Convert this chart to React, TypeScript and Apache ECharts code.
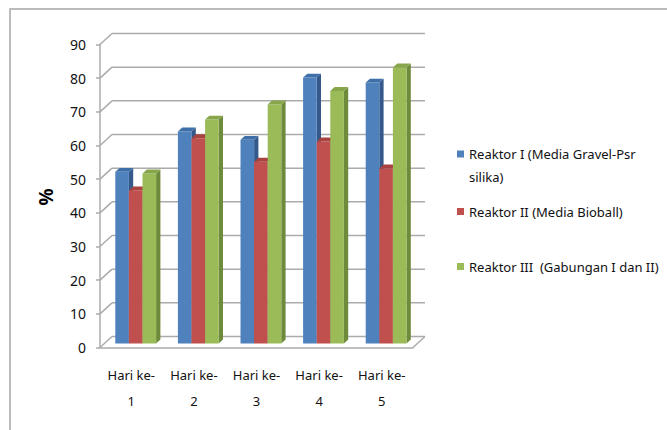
import { useEffect, useRef } from "react";
import * as echarts from "echarts";

// Days on the category axis
const categories = ["Hari ke-\n1", "Hari ke-\n2", "Hari ke-\n3", "Hari ke-\n4", "Hari ke-\n5"];

// Removal efficiency (%) per reactor
const reaktor1 = [51, 63, 60.5, 79, 77.5];
const reaktor2 = [45.5, 61, 54, 60, 52];
const reaktor3 = [50.5, 66.5, 71, 75, 82];

const seriesNames = [
  "Reaktor I (Media Gravel-Psr\nsilika)",
  "Reaktor II (Media Bioball)",
  "Reaktor III  (Gabungan I dan II)",
];

const yTicks = [0, 10, 20, 30, 40, 50, 60, 70, 80, 90];

// Pseudo-3D geometry (pixels)
const WALL_DX = 12;
const WALL_DY = -11;
const BAR_OX = 4.4;
const BAR_OY = -4;
const SIDE_DX = 4.3;
const SIDE_DY = -3.9;
const BAR_W = 13.6;

const FONT = "'Noto Sans', 'Liberation Sans', sans-serif";
const GRID_COLOR = "#ABABAB";

const palette = [
  { front: "#4F81BD", side: "#34598A", top: "#3F6FA8" },
  { front: "#C0504D", side: "#8C3836", top: "#A9433F" },
  { front: "#9BBB59", side: "#6E8A3B", top: "#87A64A" },
];

function barRenderer(k: number) {
  const c = palette[k];
  return (params: any, api: any) => {
    const idx = api.value(0);
    const v = api.value(1);
    const base = api.coord([idx, 0]);
    const top = api.coord([idx, v]);
    const x0 = base[0] - 1.5 * BAR_W + k * BAR_W + BAR_OX;
    const x1 = x0 + BAR_W;
    const yb = base[1] + BAR_OY;
    const yt = top[1] + BAR_OY;
    return {
      type: "group",
      children: [
        {
          type: "polygon",
          shape: {
            points: [
              [x1, yt],
              [x1 + SIDE_DX, yt + SIDE_DY],
              [x1 + SIDE_DX, yb + SIDE_DY],
              [x1, yb],
            ],
          },
          style: { fill: c.side },
        },
        {
          type: "rect",
          shape: { x: x0, y: yt, width: BAR_W, height: yb - yt },
          style: { fill: c.front },
        },
        {
          type: "polygon",
          shape: {
            points: [
              [x0, yt],
              [x0 + SIDE_DX, yt + SIDE_DY],
              [x1 + SIDE_DX, yt + SIDE_DY],
              [x1, yt],
            ],
          },
          style: { fill: c.top },
        },
      ],
    };
  };
}

// Back wall gridlines with the diagonal depth edges
function wallRenderer(params: any, api: any) {
  const cs = params.coordSys;
  const left = cs.x;
  const right = cs.x + cs.width;
  const v = api.value(1);
  const y = api.coord([0, v])[1];
  const style = { stroke: GRID_COLOR, lineWidth: 1.5 };
  const children: any[] = [
    { type: "line", shape: { x1: left, y1: y, x2: left + WALL_DX, y2: y + WALL_DY }, style },
    {
      type: "line",
      shape: { x1: left + WALL_DX, y1: y + WALL_DY, x2: right + WALL_DX, y2: y + WALL_DY },
      style,
    },
  ];
  if (v === 0) {
    children.push({
      type: "line",
      shape: { x1: right, y1: y, x2: right + WALL_DX, y2: y + WALL_DY },
      style,
    });
  }
  return { type: "group", children };
}

const legendText = { fontFamily: FONT, fontSize: 13, color: "#111", lineHeight: 23 };

const legendBase = {
  left: 457,
  orient: "vertical",
  icon: "rect",
  itemWidth: 7,
  itemHeight: 7,
  itemGap: 0,
  padding: 0,
  selectedMode: false,
  textStyle: legendText,
};

export default function App() {
  const ref = useRef<HTMLDivElement>(null);

  useEffect(() => {
    if (!ref.current) return;
    const chart = echarts.init(ref.current, undefined, { renderer: "svg" });
    const seriesData = [reaktor1, reaktor2, reaktor3];
    chart.setOption({
      animation: false,
      backgroundColor: "#ffffff",
      grid: { left: 100, top: 44.5, width: 313, height: 303 },
      xAxis: {
        type: "category",
        data: categories,
        axisLine: { show: true, lineStyle: { color: GRID_COLOR, width: 1.5 } },
        axisTick: { show: false },
        axisLabel: {
          interval: 0,
          fontFamily: FONT,
          fontSize: 13,
          lineHeight: 26,
          color: "#111",
          margin: 14.5,
        },
      },
      yAxis: {
        type: "value",
        min: 0,
        max: 90,
        interval: 10,
        axisLine: { show: true, lineStyle: { color: GRID_COLOR, width: 1.5 } },
        axisTick: { show: true, length: 4, lineStyle: { color: GRID_COLOR, width: 1.5 } },
        splitLine: { show: false },
        axisLabel: { fontFamily: FONT, fontSize: 14, color: "#111", margin: 14 },
      },
      legend: [
        {
          ...legendBase,
          top: 119.5,
          data: [seriesNames[0]],
          // leading empty line keeps the swatch level with the first text line
          formatter: (name: string) => "\n" + name,
        },
        { ...legendBase, top: 200, data: [seriesNames[1]] },
        { ...legendBase, top: 255, data: [seriesNames[2]] },
      ],
      graphic: [
        {
          type: "rect",
          shape: { x: 10, y: 9, width: 700, height: 500 },
          style: { fill: "none", stroke: "#A6A6A6", lineWidth: 1.5 },
          silent: true,
        },
        {
          type: "text",
          x: 46,
          y: 197,
          rotation: Math.PI / 2,
          style: {
            text: "%",
            fontFamily: FONT,
            fontSize: 19,
            fontWeight: "bold",
            fill: "#000",
            align: "center",
            verticalAlign: "middle",
          },
        },
      ],
      series: [
        {
          type: "custom",
          name: "wall",
          z: 1,
          silent: true,
          renderItem: wallRenderer,
          data: yTicks.map((v) => [0, v]),
          encode: { x: 0, y: 1 },
        },
        ...seriesData.map((vals, k) => ({
          type: "custom",
          name: seriesNames[k],
          z: 2 + k,
          itemStyle: { color: palette[k].front },
          renderItem: barRenderer(k),
          data: vals.map((v, i) => [i, v]),
          encode: { x: 0, y: 1 },
        })),
      ],
    });
    return () => chart.dispose();
  }, []);

  return (
    <div
      ref={ref}
      style={{ position: "fixed", left: 0, top: 0, width: 667, height: 430 }}
    />
  );
}
